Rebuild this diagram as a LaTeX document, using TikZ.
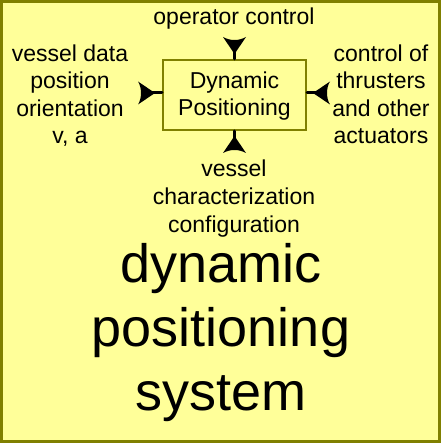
\documentclass[tikz,border=0pt]{standalone}
\usepackage{fontspec}
\setmainfont{Liberation Sans}
\definecolor{dpfill}{HTML}{FFFF99}
\definecolor{dpline}{HTML}{808000}
\begin{document}
\begin{tikzpicture}[x=1bp,y=-1bp,
  small/.style={inner sep=0pt,align=center,anchor=base,font=\fontsize{23bp}{27.5bp}\selectfont},
  big/.style={inner sep=0pt,align=center,anchor=base,font=\fontsize{54bp}{64bp}\selectfont},
  dpstem/.style={line width=3bp,line cap=round,shorten <=8bp},
  dphead/.style={fill=black,draw=none}]
\useasboundingbox (0,0) rectangle (441,443);
\draw[draw=dpline,fill=dpfill,line width=3bp] (1.5,1.5) rectangle (439.5,441.5);
\node[draw=dpline,fill=dpfill,line width=2bp,minimum width=143bp,minimum height=70bp,inner sep=0pt] (dp) at (234.5,95) {};
\node[small] (dptext) at (234.5,116) {Dynamic\\Positioning};
\node[small] (op) at (234,25) {operator control};
\node[small] (vd) at (70,144) {vessel data\\position\\orientation\\v, a};
\node[small] (ct) at (381,144) {control of\\thrusters\\and other\\actuators};
\node[small] (vc) at (234,232) {vessel\\characterization\\configuration};
\node[big] (sys) at (221,410) {dynamic\\positioning\\system};
\coordinate (at) at (234.5,37);
\coordinate (ab) at (234.5,153);
\coordinate (al) at (138,93);
\coordinate (ar) at (330,93);
\draw[dpstem] (at) -- (dp.north);
\draw[dpstem] (ab) -- (dp.south);
\draw[dpstem] (al) -- (al -| dp.west);
\draw[dpstem] (ar) -- (ar -| dp.east);
% arrowheads
\fill[dphead] (234.5,54) -- (223,37) .. controls (230,41) and (239,41) .. (246,37) -- cycle;
\fill[dphead] (234.5,136) -- (223,153) .. controls (230,149) and (239,149) .. (246,153) -- cycle;
\fill[dphead] (155,93) -- (138,81.5) .. controls (142,88) and (142,98) .. (138,104.5) -- cycle;
\fill[dphead] (313,93) -- (330,81.5) .. controls (326,88) and (326,98) .. (330,104.5) -- cycle;
\end{tikzpicture}
\end{document}
